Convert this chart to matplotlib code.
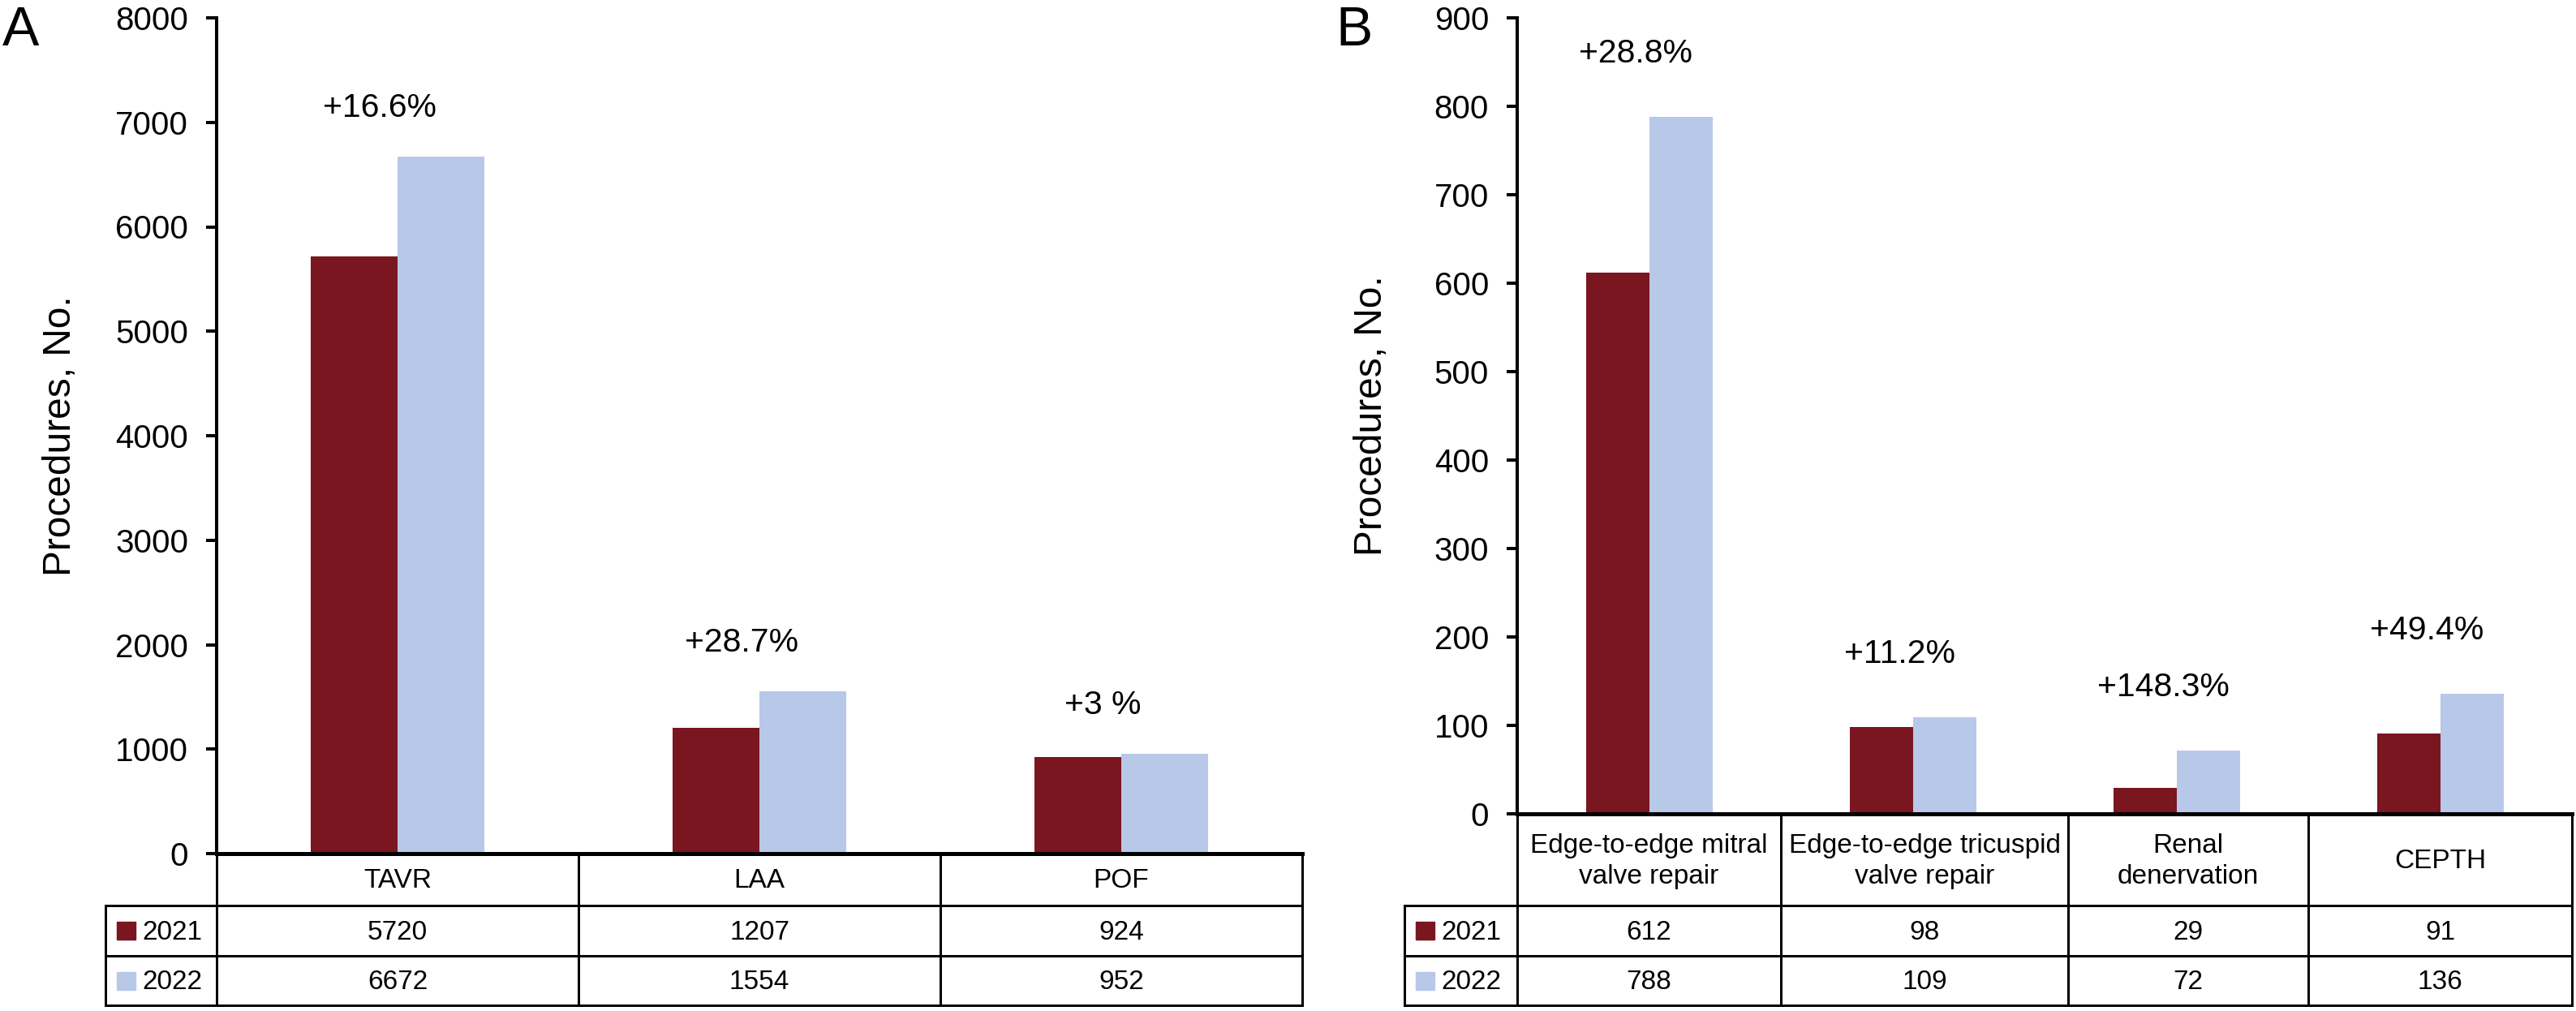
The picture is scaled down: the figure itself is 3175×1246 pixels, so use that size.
import numpy as np
import matplotlib
matplotlib.use("Agg")
import matplotlib.pyplot as plt
from matplotlib.lines import Line2D
from matplotlib.patches import Rectangle

plt.rcParams['font.family'] = ['Liberation Sans', 'DejaVu Sans']

# data
years = ["2021", "2022"]
colors = ["#7A1620", "#B8C8E8"]

cats_a = ["TAVR", "LAA", "POF"]
a_2021 = [5720, 1207, 924]
a_2022 = [6672, 1554, 952]
pct_a = ["+16.6%", "+28.7%", "+3 %"]

cats_b = ["Edge-to-edge mitral\nvalve repair", "Edge-to-edge tricuspid\nvalve repair",
          "Renal\ndenervation", "CEPTH"]
b_2021 = [612, 98, 29, 91]
b_2022 = [788, 109, 72, 136]
pct_b = ["+28.8%", "+11.2%", "+148.3%", "+49.4%"]

W, H = 3175, 1246
DPI = 100
fig = plt.figure(figsize=(W / DPI, H / DPI), dpi=DPI)


def pt(p):
    # pixels -> points
    return p * 72 / DPI


def line(x0, y0, x1, y1, lw=3):
    fig.add_artist(Line2D([x0 / W, x1 / W], [1 - y0 / H, 1 - y1 / H], color="black",
                          lw=pt(lw), solid_capstyle="projecting", transform=fig.transFigure))


def text(x, y, s, **kw):
    fig.text(x / W, 1 - y / H, s, **kw)


def panel(left, right, top, zero, cats, v1, v2, pct, ymax, step, letter, letter_x,
          ylab_x, leg_left, inner_bounds, lift):
    n = len(cats)
    ax = fig.add_axes([left / W, 1 - zero / H, (right - left) / W, (zero - top) / H])
    x = np.arange(n)
    w = 0.24
    ax.bar(x - w / 2, v1, w, color=colors[0])
    ax.bar(x + w / 2, v2, w, color=colors[1])
    ax.set_xlim(-0.5, n - 0.5)
    ax.set_ylim(0, ymax)
    ax.set_yticks(np.arange(0, ymax + 1, step))
    ax.set_xticks([])
    for s in ["top", "right"]:
        ax.spines[s].set_visible(False)
    ax.spines["left"].set_linewidth(pt(4))
    ax.spines["bottom"].set_linewidth(pt(5))
    ax.tick_params(axis="y", length=pt(13), width=pt(4), pad=pt(22), labelsize=29)
    ax.set_ylabel("Procedures, No.", fontsize=34.5)
    ax.yaxis.set_label_coords((ylab_x - left) / (right - left), 0.5)

    for i in range(n):
        ax.annotate(pct[i], (i - 0.05, max(v1[i], v2[i])), xytext=(0, pt(lift)),
                    textcoords="offset points", ha="center", va="center",
                    fontsize=29.5, annotation_clip=False)

    fig.text(letter_x / W, 1 - 38 / H, letter, fontsize=49, ha="center", va="center")

    # table below the axis
    cw = (right - left) / n
    bounds = [left] + [left + (b + 0.5) * cw for b in inner_bounds] + [right]
    r1, r2, r3 = 1116, 1178, 1239
    for bx in bounds:
        line(bx, zero, bx, r3)
    line(leg_left, r1, right, r1)
    line(leg_left, r2, right, r2)
    line(leg_left, r3, right, r3)
    line(leg_left, r1, leg_left, r3)

    for i, c in enumerate(cats):
        cx = (bounds[i] + bounds[i + 1]) / 2
        text(cx, (zero + r1) / 2 + 2, c, fontsize=24, ha="center", va="center",
             linespacing=1.3)
        text(cx, (r1 + r2) / 2 + 2, str(v1[i]), fontsize=24, ha="center", va="center")
        text(cx, (r2 + r3) / 2 + 2, str(v2[i]), fontsize=24, ha="center", va="center")

    for j, (ya, yb) in enumerate([(r1, r2), (r2, r3)]):
        cy = (ya + yb) / 2
        fig.add_artist(Rectangle(((leg_left + 14) / W, 1 - (cy + 11) / H), 23 / W, 22 / H,
                                 color=colors[j], transform=fig.transFigure))
        text(leg_left + 45, cy + 2, years[j], fontsize=24, ha="left", va="center")
    return ax


panel(267, 1605, 22, 1052, cats_a, a_2021, a_2022, pct_a, 8000, 1000,
      "A", 26, 97, 130, [0.5, 1.5], 60)
panel(1870, 3170, 22, 1003, cats_b, b_2021, b_2022, pct_b, 900, 100,
      "B", 1669, 1713, 1731, [0.5, 1.59, 2.5], 78)

fig.savefig("out.png", dpi=DPI)
